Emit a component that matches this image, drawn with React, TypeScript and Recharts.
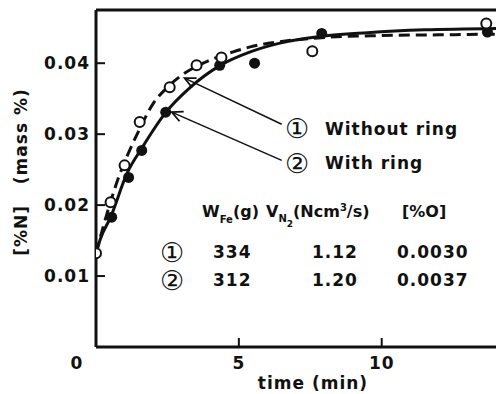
import { ComposedChart, Line, Scatter, XAxis, YAxis, ReferenceLine } from "recharts";

// open circles: without ring (1)
const openTime = [0, 0.51, 1.0, 1.53, 2.58, 3.52, 4.39, 7.57, 13.66];
const openN = [0.0132, 0.0204, 0.0256, 0.0317, 0.0366, 0.0397, 0.0408, 0.0417, 0.0456];

// filled circles: with ring (2)
const fillTime = [0.55, 1.14, 1.6, 2.44, 4.33, 5.55, 7.9, 13.7];
const fillN = [0.0183, 0.0239, 0.0277, 0.0331, 0.0397, 0.04, 0.0442, 0.0444];

// fitted curves
const solidTime = [0, 0.15, 0.5, 1.1, 1.6, 2.45, 3.3, 4.35, 5.4, 6.4, 7.9, 9.5, 11.5, 14];
const solidN = [0.0132, 0.0152, 0.0182, 0.0246, 0.028, 0.0331, 0.0366, 0.0397, 0.0416, 0.0428, 0.0438, 0.0443, 0.0447, 0.0449];

const dashTime = [0, 0.27, 0.52, 0.8, 1.1, 1.5, 2.0, 2.5, 3.0, 3.8, 4.8, 5.4, 6.2, 7.9, 10, 12, 14];
const dashN = [0.0132, 0.0172, 0.0206, 0.024, 0.027, 0.0305, 0.0343, 0.0366, 0.0383, 0.0401, 0.0416, 0.0423, 0.0429, 0.0436, 0.0439, 0.044, 0.0441];

const xTicks = [0, 5, 10];
const yTicks = [0.01, 0.02, 0.03, 0.04];

const zip = (t: number[], n: number[]) => t.map((v, i) => ({ t: v, n: n[i] }));
const openPts = zip(openTime, openN);
const fillPts = zip(fillTime, fillN);
const solidPts = zip(solidTime, solidN);
const dashPts = zip(dashTime, dashN);

const FONT = "'DejaVu Sans', 'Noto Sans CJK JP', sans-serif";
const txt = { fontFamily: FONT, fontWeight: 700, fontSize: 17, fill: "#111", letterSpacing: 1 };
const head = { ...txt, fontSize: 16, letterSpacing: 0 };
const circ = { ...txt, fontSize: 27, fontWeight: 400, letterSpacing: 0 };

const YTick = ({ x, y, payload }: any) => (
  <g>
    <line x1={x} x2={x + 9} y1={y} y2={y} stroke="#111" strokeWidth={2} />
    <text x={x - 6} y={y + 6} textAnchor="end" style={txt}>
      {payload.value.toFixed(2)}
    </text>
  </g>
);

const XTick = ({ x, y, payload }: any) =>
  payload.value === 0 ? (
    <text x={x - 19} y={y + 22} textAnchor="middle" style={txt}>0</text>
  ) : (
    <g>
      <line x1={x} x2={x} y1={y} y2={y - 9} stroke="#111" strokeWidth={2} />
      <text x={x} y={y + 22} textAnchor="middle" style={txt}>{payload.value}</text>
    </g>
  );

const Arrow = ({ x1, y1, x2, y2 }: any) => {
  const a = Math.atan2(y2 - y1, x2 - x1);
  const L = 12;
  const s = 0.45;
  const p1 = `${x2 - L * Math.cos(a - s)},${y2 - L * Math.sin(a - s)}`;
  const p2 = `${x2 - L * Math.cos(a + s)},${y2 - L * Math.sin(a + s)}`;
  return (
    <g>
      <line x1={x1} y1={y1} x2={x2} y2={y2} stroke="#111" strokeWidth={1.5} />
      <polyline points={`${p1} ${x2},${y2} ${p2}`} fill="none" stroke="#111" strokeWidth={1.8} />
    </g>
  );
};

const OpenDot = (p: any) => <circle cx={p.cx} cy={p.cy} r={5} fill="#fff" stroke="#111" strokeWidth={2} />;
const FillDot = (p: any) => <circle cx={p.cx} cy={p.cy} r={5.5} fill="#111" />;

export default function App() {
  return (
    <div style={{ position: "absolute", left: 0, top: 0, width: 496, height: 394, background: "#fff" }}>
      <ComposedChart width={496} height={394} margin={{ top: 10, right: 0, bottom: 0, left: 0 }}>
        <XAxis
          type="number"
          dataKey="t"
          domain={[0, 14]}
          ticks={xTicks}
          height={47}
          tickSize={0}
          tickMargin={0}
          tick={<XTick />}
          axisLine={{ stroke: "#111", strokeWidth: 3 }}
          tickLine={false}
          allowDataOverflow
        />
        <YAxis
          type="number"
          dataKey="n"
          domain={[0, 0.0475]}
          ticks={yTicks}
          width={96}
          tickSize={0}
          tickMargin={0}
          tick={<YTick />}
          axisLine={{ stroke: "#111", strokeWidth: 3 }}
          tickLine={false}
          allowDataOverflow
        />
        <ReferenceLine y={0.0475} stroke="#111" strokeWidth={3} />
        <Line data={dashPts} dataKey="n" type="monotone" stroke="#111" strokeWidth={3} strokeDasharray="11 6" dot={false} isAnimationActive={false} />
        <Line data={solidPts} dataKey="n" type="monotone" stroke="#111" strokeWidth={3} dot={false} isAnimationActive={false} />
        <Scatter data={fillPts} dataKey="n" shape={FillDot} isAnimationActive={false} />
        <Scatter data={openPts} dataKey="n" shape={OpenDot} isAnimationActive={false} />
        <ReferenceLine segment={[{ x: 6.5, y: 0.0314 }, { x: 3.1, y: 0.0379 }]} shape={Arrow} />
        <ReferenceLine segment={[{ x: 6.5, y: 0.0263 }, { x: 2.65, y: 0.0331 }]} shape={Arrow} />
      </ComposedChart>
      <svg width={496} height={394} style={{ position: "absolute", left: 0, top: 0, pointerEvents: "none" }}>
        <text transform="translate(27,172) rotate(-90)" textAnchor="middle" style={txt}>
          [%N]{"\u00a0\u00a0\u00a0"}(mass %)
        </text>
        <text x={313} y={389} textAnchor="middle" style={txt}>time (min)</text>

        <text x={297} y={138} textAnchor="middle" style={circ}>①</text>
        <text x={325} y={135} style={txt}>Without ring</text>
        <text x={297} y={173} textAnchor="middle" style={circ}>②</text>
        <text x={325} y={169} style={txt}>With ring</text>

        <text x={202} y={217} style={head}>
          W<tspan dy={6} fontSize={10}>Fe</tspan>
          <tspan dy={-6}>(g)</tspan>
        </text>
        <text x={266} y={217} style={head}>
          V<tspan dy={5} fontSize={10}>N</tspan>
          <tspan dy={5} fontSize={9}>2</tspan>
          <tspan dy={-10}>(Ncm</tspan>
          <tspan dy={-6} fontSize={10}>3</tspan>
          <tspan dy={6}>/s)</tspan>
        </text>
        <text x={402} y={217} style={head}>[%O]</text>

        <text x={172} y={262} textAnchor="middle" style={circ}>①</text>
        <text x={213} y={258} style={txt}>334</text>
        <text x={312} y={258} style={txt}>1.12</text>
        <text x={397} y={258} style={txt}>0.0030</text>
        <text x={172} y={290} textAnchor="middle" style={circ}>②</text>
        <text x={213} y={286} style={txt}>312</text>
        <text x={312} y={286} style={txt}>1.20</text>
        <text x={397} y={286} style={txt}>0.0037</text>
      </svg>
    </div>
  );
}
